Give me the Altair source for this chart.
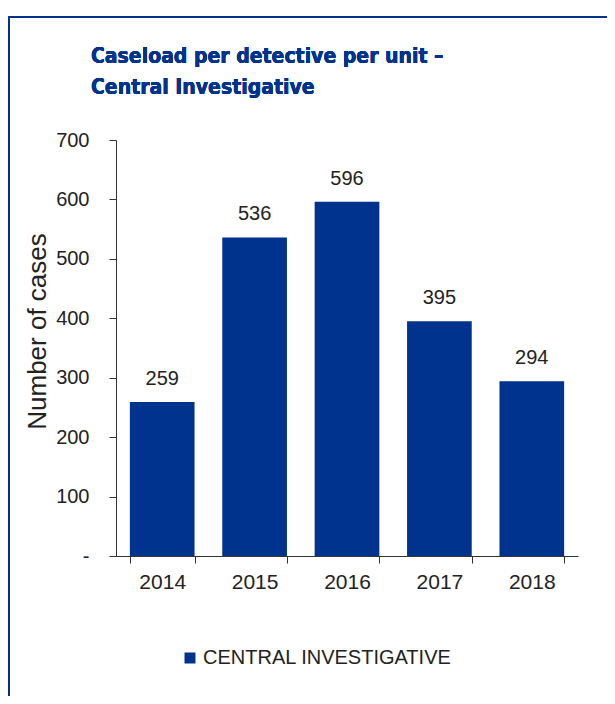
import altair as alt
import pandas as pd

years = ["2014", "2015", "2016", "2017", "2018"]
cases = [259, 536, 596, 395, 294]
series = ["CENTRAL INVESTIGATIVE"] * 5
y_ticks = [0, 100, 200, 300, 400, 500, 600, 700]
title_lines = ["Caseload per detective per unit \u2013", "Central Investigative"]

BLUE = "#00338D"
FONT = "Liberation Sans"
TXT = "#222222"

df = pd.DataFrame({"year": years, "cases": cases, "series": series})

base = alt.Chart(df)

x_enc = alt.X(
    "year:N",
    title=None,
    scale=alt.Scale(paddingInner=0.3, paddingOuter=0.15),
    axis=alt.Axis(
        labelAngle=0, tickBand="extent", tickSize=7, labelPadding=8,
        labelFontSize=21, labelColor=TXT, labelFont=FONT,
        domainColor="#333", tickColor="#333",
    ),
)
y_enc = alt.Y(
    "cases:Q",
    title="Number of cases",
    scale=alt.Scale(domain=[0, 700], nice=False),
    axis=alt.Axis(
        values=y_ticks, grid=False, tickSize=7, labelPadding=20,
        labelExpr="datum.value == 0 ? '-' : datum.label",
        labelFontSize=20, labelColor=TXT, labelFont=FONT,
        titleFontSize=26, titleFont=FONT, titleFontWeight="normal",
        titleColor=TXT, titleAngle=-90, titleBaseline="alphabetic",
        titleAlign="center", titleX=-71, titleY=191,
        domainColor="#333", tickColor="#333",
    ),
)

bars = base.mark_bar(color=BLUE).encode(
    x=x_enc,
    y=y_enc,
    color=alt.Color(
        "series:N",
        scale=alt.Scale(range=[BLUE]),
        legend=alt.Legend(
            title=None, orient="none", legendX=64, legendY=508,
            symbolType="square", symbolSize=121, symbolStrokeWidth=0,
            labelFontSize=20, labelFont=FONT, labelColor=TXT,
            labelOffset=3, labelLimit=0,
        ),
    ),
)

labels = base.mark_text(
    baseline="alphabetic", dy=-17, fontSize=20, font=FONT, color=TXT
).encode(x="year:N", y="cases:Q", text="cases:Q")

title = base.mark_text(
    align="left", baseline="alphabetic",
    font="DejaVu Sans Condensed, Roboto, sans-serif",
    fontSize=21, fontWeight="bold", color=BLUE, lineHeight=31,
).encode(
    x=alt.value(-25), y=alt.value(-77), text=alt.value(title_lines)
)

frame_top = base.mark_rule(color=BLUE, strokeWidth=2).encode(
    x=alt.value(-108), x2=alt.value(491), y=alt.value(-123)
)
frame_left = base.mark_rule(color=BLUE, strokeWidth=2).encode(
    x=alt.value(-107), y=alt.value(-124), y2=alt.value(556)
)

chart = (
    alt.layer(frame_top, frame_left, bars, labels, title)
    .properties(
        width=462,
        height=416,
        autosize=alt.AutoSizeParams(type="none"),
        padding={"left": 108, "top": 132, "right": 29, "bottom": 140},
    )
    .configure_view(stroke=None)
)

chart.save("out.html", embed_options={"renderer": "svg", "actions": False})
